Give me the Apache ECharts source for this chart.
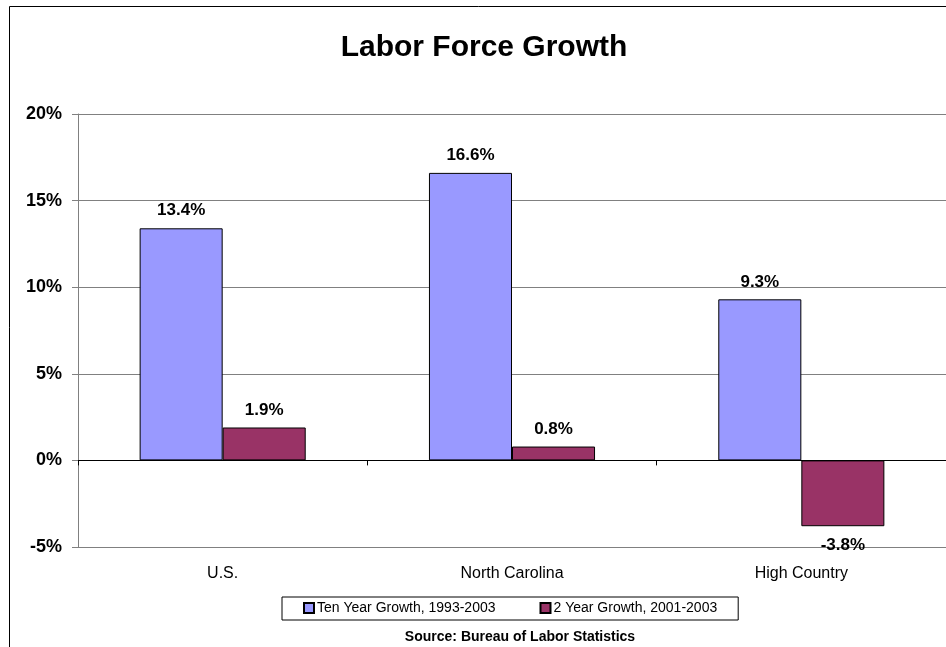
<!DOCTYPE html>
<html>
<head>
<meta charset="utf-8">
<style>
  html, body { margin: 0; padding: 0; background: #fff; }
  #chart { width: 946px; height: 647px; }
</style>
<script src="https://cdn.jsdelivr.net/npm/echarts@6/dist/echarts.min.js"></script>
</head>
<body>
<div id="chart"></div>
<script>
// Labor force growth by region (percent)
const regions = ['U.S.', 'North Carolina', 'High Country'];
const tenYearGrowth = [13.4, 16.6, 9.3];
const twoYearGrowth = [1.9, 0.8, -3.8];
const seriesNames = ['Ten Year Growth, 1993-2003', '2 Year Growth, 2001-2003'];

const FONT = '"Liberation Sans", Arial, sans-serif';
const chart = echarts.init(document.getElementById('chart'));

const labelStyle = {
  show: true,
  fontFamily: FONT,
  fontSize: 17,
  fontWeight: 'bold',
  color: '#000',
  distance: 9,
  formatter: p => p.value.toFixed(1) + '%'
};

chart.setOption({
  animation: false,
  backgroundColor: '#fff',
  graphic: [
    {
      type: 'rect',
      shape: { x: 9.5, y: 6.5, width: 950, height: 660 },
      style: { fill: 'none', stroke: '#000', lineWidth: 1 },
      silent: true,
      z: -1
    },
    {
      type: 'text',
      x: 484,
      y: 48,
      style: {
        text: 'Labor Force Growth',
        font: 'bold 30px ' + FONT,
        fill: '#000',
        textAlign: 'center',
        textVerticalAlign: 'middle'
      }
    },
    {
      type: 'text',
      x: 520,
      y: 637,
      style: {
        text: 'Source: Bureau of Labor Statistics',
        font: 'bold 14px ' + FONT,
        fill: '#000',
        textAlign: 'center',
        textVerticalAlign: 'middle'
      }
    }
  ],
  legend: {
    data: seriesNames,
    top: 597,
    left: 282,
    itemWidth: 10,
    itemHeight: 10,
    itemGap: 44,
    padding: [4, 21, 5, 21],
    borderColor: '#000',
    borderWidth: 1,
    icon: 'rect',
    textStyle: { fontFamily: FONT, fontSize: 14, color: '#000', padding: [0, 0, 0, -2] }
  },
  grid: { left: 78, right: -2, top: 114, bottom: 100 },
  xAxis: {
    type: 'category',
    data: regions,
    axisLine: { onZero: true, lineStyle: { color: '#000', width: 1 } },
    axisTick: { show: true, alignWithLabel: false, length: 5, lineStyle: { color: '#000' } },
    axisLabel: {
      fontFamily: FONT, fontSize: 16, color: '#000',
      margin: 19
    }
  },
  yAxis: {
    type: 'value',
    min: -5,
    max: 20,
    interval: 5,
    axisLine: { show: true, lineStyle: { color: '#808080' } },
    axisTick: { show: true, length: 6, lineStyle: { color: '#808080' } },
    axisLabel: {
      fontFamily: FONT, fontSize: 18, fontWeight: 'bold', color: '#000',
      margin: 16,
      formatter: '{value}%'
    },
    splitLine: { show: true, lineStyle: { color: '#808080', width: 1 } }
  },
  series: [
    {
      name: seriesNames[0],
      type: 'bar',
      data: tenYearGrowth,
      barGap: '0%',
      barCategoryGap: '42.6%',
      itemStyle: { color: '#9999FF', borderColor: '#000', borderWidth: 1 },
      label: Object.assign({ position: 'top' }, labelStyle)
    },
    {
      name: seriesNames[1],
      type: 'bar',
      data: twoYearGrowth.map(v => ({
        value: v,
        label: { position: v < 0 ? 'bottom' : 'top', distance: v < 0 ? 11 : 9 }
      })),
      itemStyle: { color: '#993366', borderColor: '#000', borderWidth: 1 },
      label: labelStyle
    }
  ]
});
</script>
</body>
</html>
